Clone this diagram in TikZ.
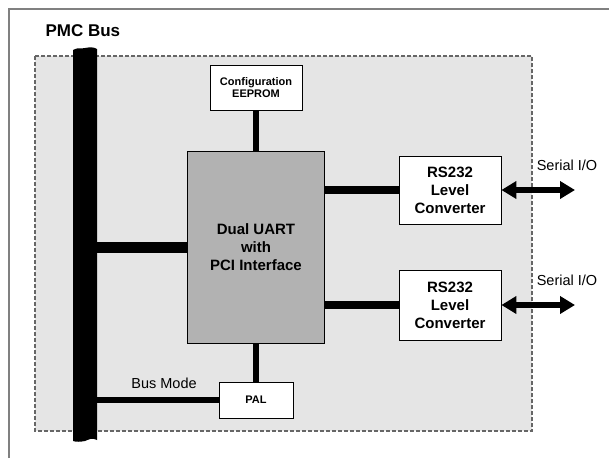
\documentclass[tikz,border=0pt]{standalone}
\usepackage{fontspec}
\setmainfont{Liberation Sans}
\usetikzlibrary{arrows.meta}

\begin{document}
\begin{tikzpicture}[x=1pt,y=-1pt,
frame/.style={line width=1.5pt, black!50},
board/.style={draw=black!60, fill=black!10, line width=1.2pt, dash pattern=on 4pt off 2pt},
chip/.style={draw, line width=0.8pt, fill=white, align=center, inner sep=0pt},
bigtext/.style={font=\fontsize{15}{18}\selectfont\bfseries},
smalltext/.style={font=\fontsize{11}{12.5}\selectfont\bfseries},
label/.style={font=\fontsize{14.5}{17}\selectfont},
link/.style={line width=6pt},
serial/.style={line width=6pt, {Triangle[length=15pt,width=17pt]}-{Triangle[length=15pt,width=17pt]}}]

\useasboundingbox (0,0) rectangle (609,458);
\draw[frame] (9,458) -- (9,9) -- (609,9);
\draw[board] (35,56) rectangle (532,431);
\node[anchor=base west, font=\fontsize{17}{20}\selectfont\bfseries] (title) at (42,36) {PMC Bus};

% the bus bar, torn at both ends
\fill (73,50) .. controls (78,47) and (82,49) .. (85,48) .. controls (90,47) and (94,47) .. (97,49)
  -- (97,440) .. controls (92,437) and (88,440) .. (85,441) .. controls (80,442) and (76,442) .. (73,441) -- cycle;
\coordinate (bus) at (97,250);

\node[chip, smalltext, minimum width=92pt, minimum height=45pt] (eeprom) at (256,87.5) {Configuration\\EEPROM};
\node[chip, bigtext, fill=black!30, minimum width=137pt, minimum height=192pt] (uart) at (256,247) {Dual UART\\with\\PCI Interface};
\node[chip, smalltext, minimum width=74pt, minimum height=36pt] (pal) at (256,400) {PAL};
\node[chip, bigtext, minimum width=102pt, minimum height=68pt] (rs1) at (450,190) {RS232\\Level\\Converter};
\node[chip, bigtext, minimum width=102pt, minimum height=70pt] (rs2) at (450,305) {RS232\\Level\\Converter};

\draw[link] (eeprom) -- (uart);
\draw[link] (uart) -- (pal);
\draw[line width=11pt] (uart.west) -- (uart.west -| bus);
\draw[link] (pal.west) -- (pal.west -| bus);
\draw[line width=8pt] (rs1.west -| uart.east) -- (rs1.west);
\draw[line width=8pt] (rs2.west -| uart.east) -- (rs2.west);

% serial ports
\coordinate (io1) at (575,190);
\coordinate (io2) at (575,305);
\draw[serial] (rs1.east) -- (io1);
\draw[serial] (rs2.east) -- (io2);
\node[label] (ser1) at (567,165) {Serial I/O};
\node[label] (ser2) at (567,280) {Serial I/O};

\node[label, anchor=base] (mode) at (164,388) {Bus Mode};

\end{tikzpicture}
\end{document}
